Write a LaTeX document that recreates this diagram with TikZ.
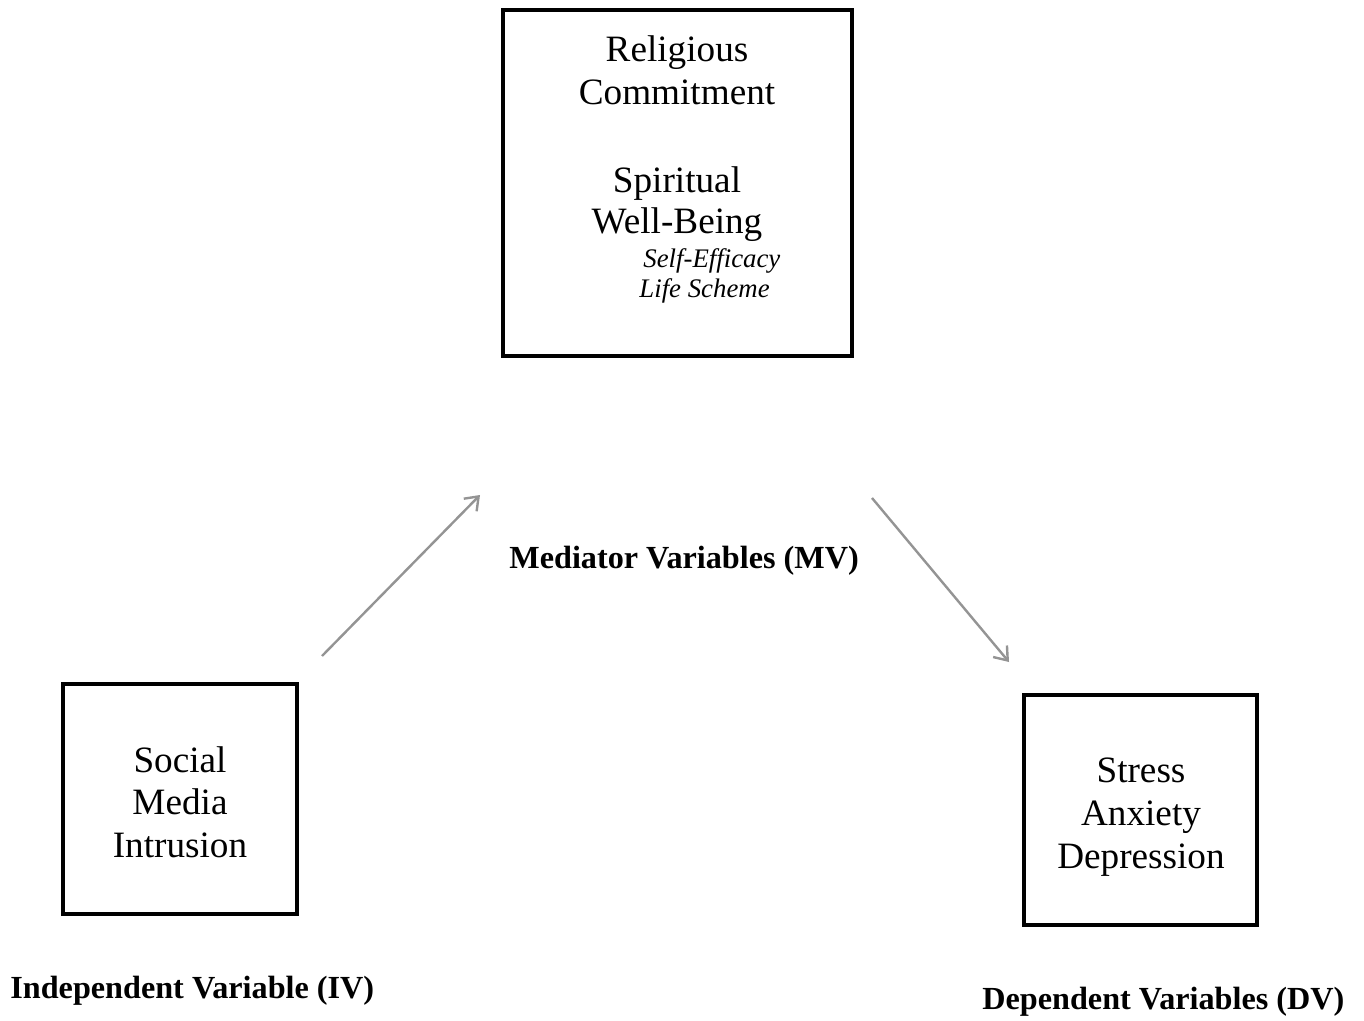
\documentclass[tikz,border=0pt]{standalone}
\usepackage{fontspec}
\setmainfont{Liberation Serif}
\usetikzlibrary{arrows.meta}
\begin{document}
\begin{tikzpicture}[x=0.5pt,y=-0.5pt,
  box/.style={draw, line width=2.2pt, inner sep=0pt},
  big/.style={font=\fontsize{18.6}{21.5}\selectfont, anchor=base, inner sep=0pt},
  ital/.style={font=\fontsize{13.4}{15.5}\selectfont\itshape, anchor=base west, inner sep=0pt},
  lab/.style={font=\fontsize{16.1}{18}\selectfont\bfseries, anchor=base west, inner sep=0pt},
  arr/.style={draw=black!42, line width=1.2pt, -{Straight Barb[length=6pt,width=9pt,line width=1.2pt]}}]
\useasboundingbox (0,0) rectangle (1364,1021);
% boxes
\node[box, minimum width=174.5pt, minimum height=173pt] (mv) at (677.5,183) {};
\node[box, minimum width=117pt, minimum height=115pt] (iv) at (180,799) {};
\node[box, minimum width=116.5pt, minimum height=115pt] (dv) at (1140.5,810) {};
% top box text
\node[big] (t1) at (677,62) {Religious};
\node[big] (t2) at (677,105) {Commitment};
\node[big] (t3) at (677,193) {Spiritual};
\node[big] (t4) at (677,234) {Well-Being};
\node[ital] (t5) at (643,268) {Self-Efficacy};
\node[ital] (t6) at (639,298) {Life Scheme};
% left box text
\node[big] (l1) at (180,772) {Social};
\node[big] (l2) at (180,814) {Media};
\node[big] (l3) at (180,857) {Intrusion};
% right box text
\node[big] (r1) at (1141,782) {Stress};
\node[big] (r2) at (1141,825) {Anxiety};
\node[big] (r3) at (1141,868) {Depression};
% labels
\node[lab] (lmv) at (509,568) {Mediator Variables (MV)};
\node[lab] (liv) at (10,998) {Independent Variable (IV)};
\node[lab] (ldv) at (982,1009) {Dependent Variables (DV)};
% arrows
\coordinate (a1s) at (322,656);
\coordinate (a1e) at (480,495);
\coordinate (a2s) at (872,498);
\coordinate (a2e) at (1009,662);
\draw[arr] (a1s) -- (a1e);
\draw[arr] (a2s) -- (a2e);
\end{tikzpicture}
\end{document}
